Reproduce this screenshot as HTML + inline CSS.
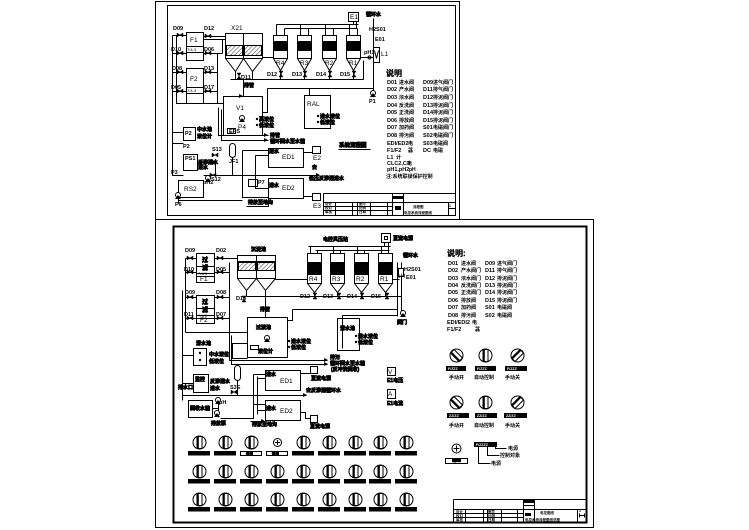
<!DOCTYPE html>
<html><head><meta charset="utf-8">
<style>
html,body{margin:0;padding:0;background:#fff;}
svg{display:block}
text{font-family:"Liberation Sans","Noto Sans CJK SC",sans-serif;fill:#000;stroke:none}
.c{font-size:5.5px;font-weight:bold}
.m{font-size:6.5px}
.k{font-size:5px;font-weight:bold;stroke:#000;stroke-width:0.7}
.t{font-size:8px;font-weight:bold;stroke:#000;stroke-width:0.3}
.w{font-size:3.6px;fill:#fff;font-weight:bold}
</style></head><body>
<svg width="749" height="530" viewBox="0 0 749 530" xmlns="http://www.w3.org/2000/svg">
<defs>
<path id="vh" d="M-3,-2L3,2L3,-2L-3,2Z" fill="#000" stroke="#000" stroke-width="0.5"/>
<path id="vv" d="M-2,-3L2,3L-2,3L2,-3Z" fill="#000" stroke="#000" stroke-width="0.5"/>
<pattern id="hat" width="3" height="3" patternUnits="userSpaceOnUse" patternTransform="rotate(45)"><line x1="0" y1="0" x2="0" y2="3" stroke="#000" stroke-width="0.8"/></pattern>
<g id="sw"><circle r="6.5" fill="#fff" stroke="#000"/><rect x="-2.5" y="-6" width="5" height="12" fill="#fff" stroke="#000"/><rect x="-2.5" y="-6" width="1.8" height="12" fill="#000"/></g>
<g id="pump"><circle r="2.5" fill="#fff" stroke="#000"/><path d="M-3,4H3L0,0Z" fill="#000"/></g>
<path id="ar" d="M0,0L-4,-2L-4,2Z" fill="#000"/>
</defs>
<rect width="749" height="530" fill="#fff"/>
<g transform="translate(0.5,0.5)" fill="none" stroke="#000" stroke-width="1">
<rect x="155" y="1" width="304" height="218"/>
<rect x="167" y="5" width="288" height="210"/>
<path d="M323,193H455M323,193V215M323,202H455M323,206H392M323,210H392M335,202V215M352,202V215M357,202V215M370,202V215M387,202V215M392,193V215M403,193V215M448,202V215M448,208H455"/>
<rect x="393" y="196" width="9" height="2" fill="#000"/>
<rect x="395" y="206" width="5" height="3" fill="#000"/>
<rect x="186" y="32" width="17" height="28"/>
<path d="M186,46H203M186,52H203"/>
<rect x="186" y="68" width="17" height="35"/>
<path d="M186,87H203M186,93H203"/>
<path d="M172,35H186M203,36H225M203,39H225M172,53H186M203,53H222M172,72H186M203,72H217M172,91H186M203,91H217M172,35V132H183M176,35V103H223M217,53V103M222,39V53"/>
<rect x="225" y="33" width="37" height="25"/>
<rect x="226" y="45" width="16" height="10" fill="url(#hat)"/>
<rect x="244" y="45" width="17" height="10" fill="url(#hat)"/>
<path d="M243,33V58M225,58L235,71L243,58L252,71L262,58M235,71V79M252,71V79M262,57H273"/>
<rect x="273" y="35" width="14" height="23"/><rect x="274" y="41" width="12" height="9" fill="#000"/>
<rect x="297" y="35" width="14" height="23"/><rect x="298" y="41" width="12" height="9" fill="#000"/>
<rect x="322" y="35" width="14" height="23"/><rect x="323" y="41" width="12" height="9" fill="#000"/>
<rect x="346" y="35" width="14" height="23"/><rect x="347" y="41" width="12" height="9" fill="#000"/>
<path d="M273,58L280,70L287,58M297,58L304,70L311,58M322,58L329,70L336,58M346,58L353,70L360,58M280,70V79M304,70V79M329,70V79M353,70V79"/>
<path d="M276,35V24M284,35V28M300,35V24M308,35V28M325,35V24M333,35V28M349,35V24M357,35V28M276,24H358M284,28H357"/>
<rect x="348" y="12" width="10" height="9"/>
<path d="M353,21V24M356,21V28M360,57H373M363,60V79M230,79H363M267,88H373M373,18V95M267,88V112H262M243,79V96"/>
<rect x="373" y="47" width="6" height="15" fill="#fff"/>
<path d="M374,50L376,58L378,50"/>
<circle cx="369" cy="57" r="1.5"/>
<rect x="223" y="96" width="39" height="39"/>
<rect x="227" y="128" width="8" height="5"/>
<path d="M218,107V135H268M221,109V140H268"/>
<rect x="304" y="95" width="26" height="33"/>
<path d="M309,88V95"/>
<rect x="183" y="127" width="12" height="13"/>
<rect x="183" y="154" width="14" height="16"/>
<rect x="178" y="180" width="25" height="17"/>
<path d="M172,132V175H183M172,143H183M197,162H215V175M203,175H318M178,197V203M178,200H242"/>
<rect x="229" y="143" width="6" height="14" rx="3"/>
<path d="M232,157V175M242,150V197H268M242,150H268M255,155H268M255,155V188H268"/>
<rect x="268" y="148" width="35" height="19"/>
<rect x="268" y="178" width="35" height="20"/>
<rect x="248" y="179" width="9" height="7"/>
<path d="M303,152H312M303,196H312M246,206H268V198"/>
<rect x="312" y="146" width="8" height="7"/>
<rect x="312" y="193" width="8" height="7"/>
<path d="M338,149H370"/>

<rect x="155" y="219" width="438" height="308"/>
<rect x="173" y="226" width="413" height="296" stroke-width="2"/>
<path d="M453,499H586M453,499V522M453,509H586M453,513H523M453,517H523M465,509V522M483,509V522M487,509V522M501,509V522M517,509V522M523,499V522M534,499V522M577,509V522M523,505H534"/>
<rect x="523" y="500" width="11" height="2" fill="#000"/>
<rect x="525" y="513" width="5" height="2" fill="#000"/>
<path d="M579,515H584M579,513V517M584,513V517"/>
<rect x="196" y="253" width="18" height="29"/>
<path d="M196,266H214M196,273H214M196,276H214"/>
<rect x="196" y="295" width="18" height="28"/>
<path d="M196,308H214M196,315H214M196,318H214"/>
<path d="M185,258H196M214,258H237M185,272H196M214,272H229M185,297H196M214,297H229M185,318H196M214,318H229M185,258V332M229,262V332M185,332H247M182,290V400"/>
<rect x="237" y="255" width="38" height="23"/>
<rect x="238" y="262" width="17" height="8" fill="url(#hat)"/>
<rect x="257" y="262" width="17" height="8" fill="url(#hat)"/>
<path d="M256,255V278M237,261H275M237,278L246,290L256,278L265,290L275,278M246,290V296M265,290V296M275,279H307"/>
<rect x="307" y="253" width="14" height="30"/><rect x="308" y="262" width="12" height="12" fill="#000"/>
<rect x="330" y="253" width="14" height="30"/><rect x="331" y="262" width="12" height="12" fill="#000"/>
<rect x="354" y="253" width="14" height="30"/><rect x="355" y="262" width="12" height="12" fill="#000"/>
<rect x="378" y="253" width="14" height="30"/><rect x="379" y="262" width="12" height="12" fill="#000"/>
<path d="M307,283L314,292L321,283M330,283L337,292L344,283M354,283L361,292L368,283M378,283L385,292L392,283M314,292V296M337,292V296M361,292V296M385,292V296"/>
<path d="M310,253V246M317,253V250M333,253V246M340,253V250M357,253V246M364,253V250M381,253V246M388,253V250M308,246H390M315,250H389"/>
<rect x="381" y="233" width="9" height="9"/>
<rect x="384" y="236" width="3" height="3"/>
<path d="M384,242V246M388,242V250M392,279H399M246,296H401M397,262V316M401,262V316M292,309H397M292,309V320H287M342,315H397M342,315V348M265,296V317"/>
<rect x="398" y="268" width="5" height="8" fill="#fff"/>
<rect x="247" y="317" width="40" height="40"/>
<rect x="250" y="345" width="8" height="4"/>
<path d="M247,343H232V358H247M229,332V360H327M231,335V364H327"/>
<rect x="337" y="318" width="22" height="32"/>
<rect x="193" y="348" width="13" height="17"/>
<rect x="193" y="374" width="15" height="18"/>
<rect x="188" y="400" width="24" height="17"/>
<path d="M182,355H193M182,383H193M182,395H208M208,395H306M212,408H218M218,400V417"/>
<rect x="234" y="365" width="6" height="15" rx="3"/>
<path d="M237,380V395M253,374V410M257,376V414M253,374H265M257,378H265M253,404H265M257,410H265"/>
<rect x="265" y="370" width="35" height="20"/>
<rect x="265" y="400" width="35" height="20"/>
<path d="M300,373H310M300,412H305V418H310M220,418H253V405M250,421H264"/>
<rect x="310" y="366" width="7" height="7"/>
<rect x="310" y="415" width="7" height="7"/>
<rect x="387" y="367" width="8" height="8"/>
<rect x="387" y="389" width="8" height="9"/>
<path d="M478,446V463H490M487,446V455H499M495,446V448H506"/>
<rect x="445" y="458" width="22" height="5"/>
</g>

<g>
<use href="#vh" x="180" y="35"/><use href="#vh" x="208" y="36"/>
<use href="#vh" x="180" y="53"/><use href="#vh" x="208" y="53"/>
<use href="#vh" x="180" y="72"/><use href="#vh" x="208" y="72"/>
<use href="#vh" x="180" y="91"/><use href="#vh" x="208" y="91"/>
<use href="#vv" x="281" y="74"/><use href="#vv" x="305" y="74"/><use href="#vv" x="330" y="74"/><use href="#vv" x="354" y="74"/>
<use href="#vv" x="239" y="76"/>
<use href="#pump" x="373" y="93"/>
<use href="#pump" x="242" y="118"/>
<use href="#pump" x="178" y="195"/>
<use href="#pump" x="208" y="178"/>
<use href="#vh" x="215" y="155"/><use href="#vh" x="213" y="175"/>
<use href="#ar" x="268" y="135"/><use href="#ar" x="268" y="140"/>
<use href="#ar" x="320" y="175"/><use href="#ar" x="243" y="96"/>
<use href="#vh" x="190" y="258"/><use href="#vh" x="220" y="258"/>
<use href="#vh" x="190" y="272"/><use href="#vh" x="220" y="272"/>
<use href="#vh" x="190" y="297"/><use href="#vh" x="220" y="297"/>
<use href="#vh" x="190" y="318"/><use href="#vh" x="220" y="318"/>
<use href="#vv" x="315" y="296"/><use href="#vv" x="339" y="296"/><use href="#vv" x="362" y="296"/><use href="#vv" x="387" y="296"/>
<use href="#vv" x="244" y="299"/>
<use href="#pump" x="403" y="313"/>
<use href="#pump" x="267" y="338"/>
<use href="#pump" x="217" y="413"/>
<use href="#pump" x="218" y="400"/>
<use href="#vh" x="234" y="392"/>
<use href="#ar" x="328" y="360"/><use href="#ar" x="328" y="364"/>
<use href="#ar" x="307" y="395"/><use href="#ar" x="265" y="421"/>
<circle cx="257" cy="119" r="1.2" fill="#000"/><circle cx="257" cy="125" r="1.2" fill="#000"/>
<circle cx="318" cy="116" r="1.2" fill="#000"/><circle cx="318" cy="122" r="1.2" fill="#000"/>
<circle cx="289" cy="341" r="1.2" fill="#000"/><circle cx="289" cy="347" r="1.2" fill="#000"/>
<circle cx="356" cy="336" r="1.2" fill="#000"/><circle cx="356" cy="342" r="1.2" fill="#000"/>
<circle cx="200" cy="353" r="1.2" fill="#000"/><circle cx="200" cy="360" r="1.2" fill="#000"/>
</g>

<g>
<use href="#sw" transform="translate(456.5,355.5) rotate(-45)"/>
<use href="#sw" x="485.5" y="355.5"/>
<use href="#sw" transform="translate(517.5,355.5) rotate(45)"/>
<use href="#sw" transform="translate(456.5,402.5) rotate(-45)"/>
<use href="#sw" x="485.5" y="402.5"/>
<use href="#sw" transform="translate(517.5,402.5) rotate(45)"/>
<rect x="446" y="366" width="20" height="5" fill="#000"/><rect x="475" y="366" width="21" height="5" fill="#000"/><rect x="505" y="366" width="22" height="5" fill="#000"/>
<rect x="447" y="413" width="22" height="5" fill="#000"/><rect x="475" y="413" width="22" height="5" fill="#000"/><rect x="504" y="413" width="23" height="5" fill="#000"/>
<text class="w" x="448" y="370">F/ZZZ</text><text class="w" x="477" y="370">F/ZZZ</text><text class="w" x="507" y="370">F/ZZZ</text>
<text class="w" x="449" y="417">ZZ/ZZ</text><text class="w" x="477" y="417">ZZ/ZZ</text><text class="w" x="506" y="417">ZZ/ZZ</text>
<circle cx="456.5" cy="448.5" r="4.5" fill="none" stroke="#000"/>
<path d="M453.5,448.5H459.5M456.5,445.5V451.5" stroke="#000"/>
<rect x="474" y="442" width="23" height="5" fill="#000"/>
<text class="w" x="476" y="446">F/ZZZZ</text>
<rect x="452" y="459" width="9" height="3" fill="#000"/>
</g>

<g>
<use href="#sw" x="199.5" y="442.5"/><use href="#sw" x="225.5" y="442.5"/><use href="#sw" x="251.5" y="442.5"/>
<circle cx="277.5" cy="442.5" r="4" fill="none" stroke="#000"/><path d="M275,442.5H280M277.5,440V445" stroke="#000"/>
<use href="#sw" x="303.5" y="442.5"/><use href="#sw" x="329.5" y="442.5"/><use href="#sw" x="355.5" y="442.5"/><use href="#sw" x="380.5" y="442.5"/><use href="#sw" x="406.5" y="442.5"/>
<use href="#sw" x="199.5" y="471.5"/><use href="#sw" x="225.5" y="471.5"/><use href="#sw" x="251.5" y="471.5"/><use href="#sw" x="277.5" y="471.5"/><use href="#sw" x="303.5" y="471.5"/><use href="#sw" x="329.5" y="471.5"/><use href="#sw" x="355.5" y="471.5"/><use href="#sw" x="380.5" y="471.5"/><use href="#sw" x="406.5" y="471.5"/>
<use href="#sw" x="199.5" y="499.5"/><use href="#sw" x="225.5" y="499.5"/><use href="#sw" x="251.5" y="499.5"/><use href="#sw" x="277.5" y="499.5"/><use href="#sw" x="303.5" y="499.5"/><use href="#sw" x="329.5" y="499.5"/><use href="#sw" x="355.5" y="499.5"/><use href="#sw" x="380.5" y="499.5"/><use href="#sw" x="406.5" y="499.5"/>
<g fill="#000">
<rect x="188" y="451" width="22" height="4.5"/><rect x="214" y="451" width="22" height="4.5"/>
<rect x="292" y="451" width="22" height="4.5"/><rect x="318" y="451" width="22" height="4.5"/><rect x="344" y="451" width="22" height="4.5"/><rect x="369" y="451" width="22" height="4.5"/><rect x="395" y="451" width="22" height="4.5"/>
<rect x="188" y="479" width="22" height="4.5"/><rect x="214" y="479" width="22" height="4.5"/><rect x="240" y="479" width="22" height="4.5"/><rect x="266" y="479" width="22" height="4.5"/><rect x="292" y="479" width="22" height="4.5"/><rect x="318" y="479" width="22" height="4.5"/><rect x="344" y="479" width="22" height="4.5"/><rect x="369" y="479" width="22" height="4.5"/><rect x="395" y="479" width="22" height="4.5"/>
<rect x="188" y="507" width="22" height="4.5"/><rect x="214" y="507" width="22" height="4.5"/><rect x="240" y="507" width="22" height="4.5"/><rect x="266" y="507" width="22" height="4.5"/><rect x="292" y="507" width="22" height="4.5"/><rect x="318" y="507" width="22" height="4.5"/><rect x="344" y="507" width="22" height="4.5"/><rect x="369" y="507" width="22" height="4.5"/><rect x="395" y="507" width="22" height="4.5"/>
</g>
<rect x="240.5" y="451.5" width="21" height="4" fill="#fff" stroke="#000"/>
<rect x="266.5" y="451.5" width="21" height="4" fill="#fff" stroke="#000"/>
<text class="k" x="246" y="455" style="font-size:3.5px">备用</text>
<text class="k" x="272" y="455" style="font-size:3.5px">备用</text>
<g class="w">
<text x="190" y="455">F/01.1</text><text x="216" y="455">F/02.1</text><text x="294" y="455">F/03.1</text><text x="320" y="455">F/04.1</text><text x="346" y="455">F/05.1</text><text x="371" y="455">F/06.1</text><text x="397" y="455">F/07.1</text>
<text x="190" y="483">F/08.1</text><text x="216" y="483">F/09.1</text><text x="242" y="483">F/10.1</text><text x="268" y="483">F/11.1</text><text x="294" y="483">F/12.1</text><text x="320" y="483">F/13.1</text><text x="346" y="483">F/14.1</text><text x="371" y="483">F/15.1</text><text x="397" y="483">F/16.1</text>
<text x="190" y="511">F/17.1</text><text x="216" y="511">F/18.1</text><text x="242" y="511">F/19.1</text><text x="268" y="511">F/20.1</text><text x="294" y="511">F/21.1</text><text x="320" y="511">F/22.1</text><text x="346" y="511">F/23.1</text><text x="371" y="511">F/24.1</text><text x="397" y="511">F/25.1</text>
</g>
</g>

<g>
<text class="c" x="173" y="30">D09</text><text class="c" x="204" y="30">D12</text>
<text class="c" x="171" y="51">D10</text><text class="c" x="204" y="51">D06</text>
<text class="c" x="172" y="70">D08</text><text class="c" x="204" y="70">D13</text>
<text class="c" x="171" y="89">D05</text><text class="c" x="204" y="89">D17</text>
<text class="m" x="190" y="42">F1</text><text x="187" y="51" style="font-size:4px">7/4-3</text>
<text class="m" x="190" y="81">F2</text><text x="187" y="92" style="font-size:4px">7/4-3</text>
<text class="m" x="231" y="30">X21</text>
<text class="c" x="241" y="79">D11</text>
<text class="m" x="276" y="65">R4</text><text class="m" x="300" y="65">R3</text><text class="m" x="325" y="65">R2</text><text class="m" x="349" y="65">R1</text>
<text class="c" x="267" y="76">D12</text><text class="c" x="292" y="76">D13</text><text class="c" x="316" y="76">D14</text><text class="c" x="340" y="76">D15</text>
<text class="m" x="350" y="19">E1</text>
<text class="k" x="366" y="16">循环水</text>
<text class="c" x="369" y="31">H2S01</text><text class="c" x="375" y="41">E01</text>
<text class="m" x="381" y="56">L1</text><text class="c" x="364" y="54">pH1</text>
<text class="c" x="369" y="103">P1</text>
<text class="k" x="244" y="87">排管</text>
<text class="m" x="236" y="110">V1</text><text class="m" x="238" y="129">P4</text>
<text class="c" x="229" y="133">EPS</text>
<text class="k" x="259" y="121">高液位</text><text class="k" x="259" y="127">低液位</text>
<text class="m" x="307" y="106">RAL</text>
<text class="k" x="320" y="118">进水液位</text><text class="k" x="320" y="124">低液位</text>
<text class="k" x="270" y="137">排管</text><text class="k" x="270" y="143">循环回水至水箱</text>
<text class="c" x="185" y="135">P2</text>
<text class="k" x="197" y="131">中水池</text><text class="k" x="197" y="138">液位计</text>
<text class="c" x="183" y="148">P2</text>
<text class="c" x="185" y="160">PS1</text>
<text class="k" x="198" y="164">反渗透水</text><text class="k" x="198" y="169">进水</text>
<text class="c" x="171" y="174">P3</text>
<text class="m" x="184" y="191">RS2</text>
<text class="c" x="175" y="206">P6</text>
<text class="c" x="203" y="184">pH2</text>
<text class="c" x="212" y="151">S13</text><text class="c" x="211" y="181">S12</text>
<text class="c" x="229" y="163">JF1</text>
<text class="m" x="282" y="159">ED1</text><text class="m" x="282" y="190">ED2</text>
<text class="k" x="269" y="153">进水</text><text class="k" x="269" y="187">进水</text>
<text class="c" x="258" y="184">P7</text>
<text class="m" x="313" y="160">E2</text><text class="m" x="313" y="208">E3</text>
<text class="k" x="312" y="169">去</text>
<text class="k" x="309" y="180">低压反渗透进水</text>
<text class="k" x="248" y="204">排放至地沟</text>
<text class="k" x="339" y="147" style="font-size:5.5px">系统流程图</text>
<text class="t" x="386" y="76">说明</text>
<g class="c">
<text x="387" y="84">D01</text><text x="387" y="91">D02</text><text x="387" y="99">D03</text><text x="387" y="107">D04</text><text x="387" y="114">D05</text><text x="387" y="122">D06</text><text x="387" y="129">D07</text><text x="387" y="137">D08</text>
<text x="387" y="145">EDI/ED2</text><text x="387" y="152">F1/F2</text><text x="387" y="159">L1</text><text x="387" y="165">CLC2,C3</text><text x="387" y="171">pH1,pH2</text>
<text x="423" y="84">D09</text><text x="423" y="91">D11</text><text x="423" y="99">D12</text><text x="423" y="107">D13</text><text x="423" y="114">D14</text><text x="423" y="122">D15</text><text x="423" y="129">S01</text><text x="423" y="137">S02</text><text x="423" y="145">S03</text><text x="423" y="152">DC</text>
</g>
<g class="k">
<text x="399" y="84">进水阀</text><text x="399" y="91">产水阀</text><text x="399" y="99">浓水阀</text><text x="399" y="107">反洗阀</text><text x="399" y="114">正洗阀</text><text x="399" y="122">排放阀</text><text x="399" y="129">加药阀</text><text x="399" y="137">排污阀</text>
<text x="408" y="145">电</text><text x="408" y="152">器</text><text x="396" y="159">计</text><text x="407" y="165">电</text><text x="409" y="171">pH</text>
<text x="386" y="178">注:系统联锁保护控制</text>
<text x="433" y="84">进气阀门</text><text x="433" y="91">排气阀门</text><text x="433" y="99">排泥阀门</text><text x="433" y="107">排泥阀门</text><text x="433" y="114">排泥阀门</text><text x="433" y="122">排泥阀门</text><text x="433" y="129">电磁阀门</text><text x="433" y="137">电磁阀门</text><text x="433" y="145">电磁阀</text><text x="433" y="152">电磁</text>
</g>
<g class="k" style="font-size:3.5px">
<text x="325" y="205">设计</text><text x="325" y="209">校对</text><text x="325" y="213">审核</text>
<text x="359" y="205">图号</text><text x="359" y="209">比例</text><text x="359" y="213">日期</text>
<text x="413" y="208">流程图</text>
<text x="404" y="214">电控系统流程图纸</text>
<text x="449" y="207">1</text>
</g>
</g>

<g>
<text class="c" x="185" y="252">D09</text><text class="c" x="216" y="252">D02</text>
<text class="c" x="184" y="271">D10</text><text class="c" x="216" y="271">D05</text>
<text class="c" x="185" y="294">D09</text><text class="c" x="216" y="294">D08</text>
<text class="c" x="184" y="316">D11</text><text class="c" x="216" y="316">D07</text>
<text class="k" x="202" y="262" style="font-size:6px">过</text><text class="k" x="202" y="270" style="font-size:6px">滤</text>
<text x="198" y="275" style="font-size:4px">7/4/3</text><text class="m" x="200" y="281">F1</text>
<text class="k" x="202" y="304" style="font-size:6px">过</text><text class="k" x="202" y="312" style="font-size:6px">滤</text>
<text x="198" y="317" style="font-size:4px">7/4/3</text><text class="m" x="200" y="322">F2</text>
<text class="k" x="251" y="251">沉淀池</text>
<text class="k" x="323" y="241">电控风压站</text>
<text class="k" x="393" y="240">直流电源</text>
<text class="m" x="309" y="281">R4</text><text class="m" x="332" y="281">R3</text><text class="m" x="356" y="281">R2</text><text class="m" x="380" y="281">R1</text>
<text class="c" x="300" y="298">D12</text><text class="c" x="323" y="298">D13</text><text class="c" x="347" y="298">D14</text><text class="c" x="371" y="298">D15</text>
<text class="c" x="236" y="300">D13</text>
<text class="k" x="403" y="257">循环水</text>
<text class="c" x="404" y="271">H2S01</text><text class="c" x="406" y="279">E01</text>
<text class="m" x="397" y="278">pH</text>
<text class="k" x="397" y="324">阀门</text>
<text class="k" x="260" y="311">排管</text>
<text class="k" x="256" y="329">过渡池</text>
<text class="k" x="258" y="353">液位计</text>
<text class="k" x="291" y="343">进水液位</text><text class="k" x="291" y="349">低液位</text>
<text class="k" x="340" y="330">清水池</text>
<text class="k" x="358" y="338">进水液位</text><text class="k" x="358" y="344">低液位</text>
<text class="k" x="330" y="359">排污</text><text class="k" x="330" y="365">循环回水至水箱</text><text class="k" x="331" y="371">(反冲洗回收)</text>
<text class="k" x="196" y="345">清水池</text>
<text class="k" x="209" y="356">中水液位</text><text class="k" x="209" y="363">低液位</text>
<text class="k" x="195" y="381">监控</text>
<text class="k" x="210" y="383">反渗透水</text><text class="k" x="210" y="390">进水</text>
<text class="k" x="178" y="389">排水口</text>
<text class="k" x="190" y="410">回收水箱</text>
<text class="c" x="219" y="404">pH</text>
<text class="k" x="211" y="425">排放泵</text>
<text class="c" x="230" y="389">S3E</text>
<text class="m" x="280" y="383">ED1</text><text class="m" x="280" y="413">ED2</text>
<text class="k" x="266" y="376">进水</text><text class="k" x="266" y="410">进水</text>
<text class="k" x="311" y="380">直流电源</text>
<text class="k" x="306" y="392">去反渗透循环水</text>
<text class="k" x="310" y="428">直流电源</text>
<text class="k" x="252" y="426">排放至地沟</text>
<text class="m" x="388" y="374">V</text><text class="k" x="387" y="382">E1电压</text>
<text class="m" x="388" y="396">A</text><text class="k" x="387" y="405">E1电流</text>
<text class="t" x="447" y="256">说明:</text>
<g class="c">
<text x="448" y="265">D01</text><text x="448" y="272">D02</text><text x="448" y="280">D03</text><text x="448" y="287">D04</text><text x="448" y="294">D05</text><text x="448" y="302">D06</text><text x="448" y="309">D07</text><text x="448" y="317">D08</text>
<text x="447" y="324">EDI/EDI2</text><text x="447" y="331">F1/F2</text>
<text x="485" y="265">D09</text><text x="485" y="272">D11</text><text x="485" y="280">D12</text><text x="485" y="287">D13</text><text x="485" y="294">D14</text><text x="485" y="302">D15</text><text x="485" y="309">S01</text><text x="485" y="317">S02</text>
</g>
<g class="k">
<text x="461" y="265">进水阀</text><text x="461" y="272">产水阀门</text><text x="461" y="280">浓水阀门</text><text x="461" y="287">反洗阀门</text><text x="461" y="294">正洗阀门</text><text x="461" y="302">排放阀</text><text x="461" y="309">加药阀</text><text x="461" y="317">排污阀</text>
<text x="472" y="324">电</text><text x="475" y="331">器</text>
<text x="497" y="265">进气阀门</text><text x="497" y="272">排气阀门</text><text x="497" y="280">排泥阀门</text><text x="497" y="287">排泥阀门</text><text x="497" y="294">排泥阀门</text><text x="497" y="302">排泥阀门</text><text x="497" y="309">电磁阀</text><text x="497" y="317">电磁阀</text>
<text x="449" y="379">手动开</text><text x="474" y="379">自动控制</text><text x="505" y="379">手动关</text>
<text x="449" y="427">手动开</text><text x="474" y="427">自动控制</text><text x="505" y="427">手动关</text>
<text x="508" y="450">电源</text><text x="500" y="457">控制对象</text><text x="491" y="465">电源</text>
<text x="453" y="462" style="font-size:3.5px">备用</text>
</g>
<g class="k" style="font-size:3.5px">
<text x="456" y="513">设计</text><text x="456" y="517">校对</text><text x="456" y="521">审核</text>
<text x="488" y="513">图号</text><text x="488" y="517">比例</text><text x="488" y="521">日期</text>
<text x="540" y="514">电控图纸</text>
<text x="525" y="521">电控系统流程图纸总图</text>
<text x="579" y="512">1</text>
</g>
</g>
</svg>
</body></html>
